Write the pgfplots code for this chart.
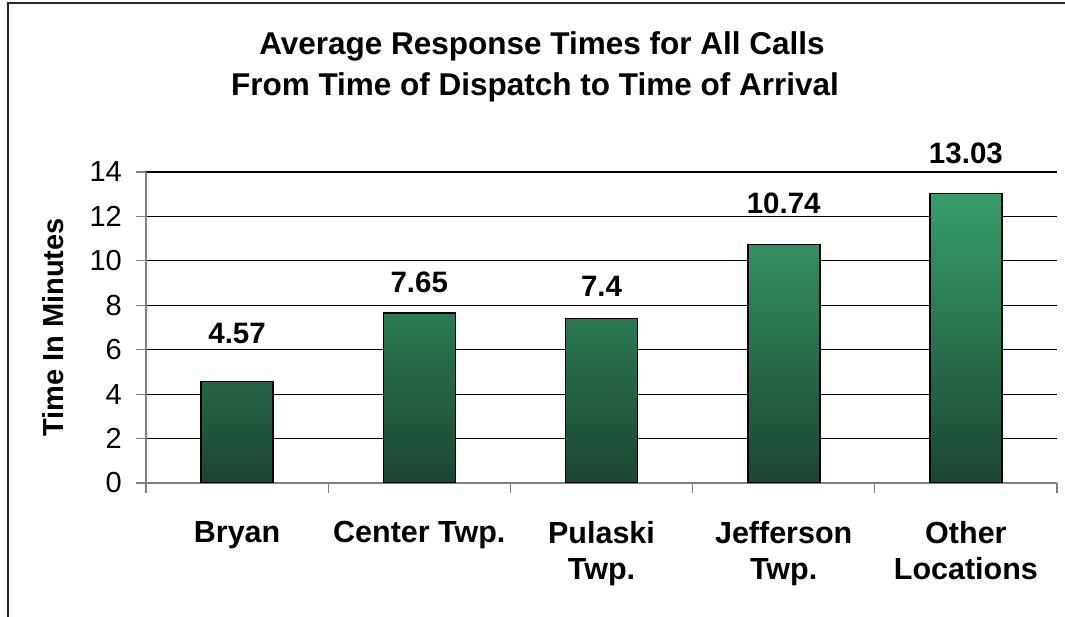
\documentclass[border=0pt]{standalone}
\usepackage{fontspec}
\setmainfont{Liberation Sans}
\usepackage{pgfplots}
\usepackage{pgfplotstable}
\pgfplotsset{compat=1.18}
\definecolor{bartop}{RGB}{55,158,108}
\definecolor{barmid}{RGB}{47,136,93}
\definecolor{barbot}{RGB}{26,70,49}
\definecolor{axgray}{RGB}{128,128,128}
\pgfplotstableread{
x y off
0 4.57 38
1 7.65 21
2 7.4 22
3 10.74 31
4 13.03 30
}\resptimes
\begin{document}
\begin{tikzpicture}
\begin{axis}[
  at={(146pt,134pt)}, anchor=south west,
  scale only axis, width=911pt, height=311pt,
  xmin=-0.5, xmax=4.5, ymin=0, ymax=14,
  axis x line*=bottom, axis y line*=left,
  axis line style={draw=axgray, line width=1.2pt},
  ytick={0,2,...,14},
  ymajorgrids, grid style={black, line width=1.1pt},
  xtick={-0.5,0.5,...,4.5}, xticklabels={},
  extra x ticks={0,1,2,3,4},
  extra x tick labels={Bryan, Center Twp., {Pulaski\\Twp.}, {Jefferson\\Twp.}, {Other\\Locations}},
  extra x tick style={major tick length=0pt, tick style={draw=none}},
  tick align=outside, major tick length=10pt,
  tick style={draw=axgray, line width=1.2pt},
  /pgf/number format/assume math mode=true,
  yticklabel style={font=\fontsize{29}{34}\selectfont, inner sep=0pt, xshift=-14pt},
  xticklabel style={font=\fontsize{30.5}{36}\selectfont\bfseries, align=center, inner sep=0pt, yshift=-38pt},
  ylabel={Time In Minutes},
  ylabel style={font=\fontsize{29}{34}\selectfont\bfseries, at={(axis description cs:-0.102,0.5)}, anchor=center},
  visualization depends on={\thisrow{off} \as \labeloff},
  nodes near coords={\pgfmathprintnumber[assume math mode=true]{\pgfplotspointmeta}},
  nodes near coords style={font=\fontsize{29.5}{34}\selectfont\bfseries, anchor=base, inner sep=0pt, yshift=\labeloff},
]
\addplot[ybar, bar width=72pt, draw=black, line width=1.6pt,
  top color=bartop, middle color=barmid, bottom color=barbot]
  table[x=x, y=y] {\resptimes};
\end{axis}
\node[anchor=base, font=\fontsize{31.5}{36}\selectfont\bfseries] at (542pt,562pt) {Average Response Times for All Calls};
\node[anchor=base, font=\fontsize{31.5}{36}\selectfont\bfseries] at (535pt,521pt) {From Time of Dispatch to Time of Arrival};
\draw[line width=1.5pt, black!85] (8pt,-2pt) -- (8pt,614pt) -- (1067pt,614pt);
\pgfresetboundingbox
\useasboundingbox (0,0) rectangle (1065pt,617pt);
\end{tikzpicture}
\end{document}
